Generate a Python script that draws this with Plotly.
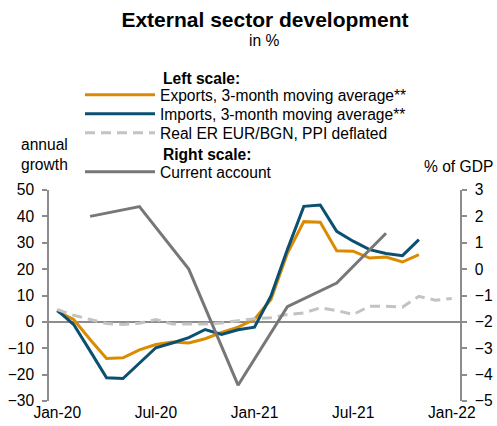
import plotly.graph_objects as go

months = ["Jan-20", "Feb-20", "Mar-20", "Apr-20", "May-20", "Jun-20", "Jul-20", "Aug-20",
          "Sep-20", "Oct-20", "Nov-20", "Dec-20", "Jan-21", "Feb-21", "Mar-21", "Apr-21",
          "May-21", "Jun-21", "Jul-21", "Aug-21", "Sep-21", "Oct-21", "Nov-21", "Dec-21", "Jan-22"]
tick_labels = ["Jan-20", "Jul-20", "Jan-21", "Jul-21", "Jan-22"]

exports = [4.0, 0.9, -6.7, -13.9, -13.6, -10.6, -8.6, -7.6, -8.0, -6.4, -4.0, -2.0, 1.0,
           8.5, 26.0, 38.0, 37.8, 27.0, 26.8, 24.2, 24.6, 22.7, 25.5, None, None]
imports = [4.5, -1.0, -11.0, -21.2, -21.5, -15.8, -9.8, -8.0, -6.0, -2.9, -4.8, -3.0, -2.0,
           9.8, 27.4, 43.8, 44.3, 34.3, 30.6, 27.4, 25.9, 25.1, 31.2, None, None]
real_er = [4.7, 2.5, 0.9, -0.6, -1.0, -0.5, 0.9, -0.8, -0.8, -0.8, -0.4, 0.3, 1.2,
           1.6, 2.8, 3.4, 5.3, 4.3, 2.8, 5.9, 5.9, 5.6, 9.7, 8.2, 8.9]
ca_months = ["Mar-20", "Jun-20", "Sep-20", "Dec-20", "Mar-21", "Jun-21", "Sep-21"]
current_account = [2.0, 2.37, 0.0, -4.4, -1.42, -0.53, 1.36]

FONT = "Arial, Liberation Sans, sans-serif"
FS = 15.6
PAGE_OFF = 0
W, H = 497, 426
ML, MR, MT, MB = 49, 37, 190, 25
ORANGE = "#DB8B00"
BLUE = "#0B4F71"
LGRAY = "#C3C3C3"
DGRAY = "#777777"
AXIS = "#8C8C8C"


def cx(px):
    return (px - PAGE_OFF) / W


def cy(py):
    return 1 - (py - PAGE_OFF) / H


def pxp(px):
    return (px - PAGE_OFF - ML) / (W - ML - MR)


def pyp(py):
    return (H - MB - (py - PAGE_OFF)) / (H - MB - MT)


fig = go.Figure()
fig.add_trace(go.Scatter(x=months, y=exports, mode="lines", name="Exports, 3-month moving average**",
                         line=dict(color=ORANGE, width=3), legend="legend"))
fig.add_trace(go.Scatter(x=months, y=imports, mode="lines", name="Imports, 3-month moving average**",
                         line=dict(color=BLUE, width=3), legend="legend2"))
fig.add_trace(go.Scatter(x=months, y=real_er, mode="lines", name="Real ER EUR/BGN, PPI deflated",
                         line=dict(color=LGRAY, width=3, dash="10px,6px"), legend="legend3"))
fig.add_trace(go.Scatter(x=ca_months, y=current_account, mode="lines", name="Current account",
                         line=dict(color=DGRAY, width=3), yaxis="y2", legend="legend4"))

tf = dict(family=FONT, size=FS, color="#000")


def leg(py):
    return dict(x=cx(80), y=cy(py - 1), xref="container", yref="container",
                xanchor="left", yanchor="middle", bgcolor="rgba(0,0,0,0)",
                font=tf, itemwidth=70, borderwidth=0)


fig.update_layout(
    width=W, height=H, autosize=False,
    margin=dict(l=ML, r=MR, t=MT, b=MB, autoexpand=False),
    paper_bgcolor="white", plot_bgcolor="white",
    font=tf,
    showlegend=True,
    hovermode=False,
    legend=leg(96), legend2=leg(115), legend3=leg(134), legend4=leg(173),
    xaxis=dict(type="category", categoryorder="array", categoryarray=months,
               range=[-0.5, 24.5], tickmode="array", tickvals=tick_labels, ticktext=tick_labels,
               showline=False, ticks="", showgrid=False, zeroline=False, tickfont=tf,
               ticklabelstandoff=0),
    yaxis=dict(range=[-30, 50], dtick=10, showgrid=False, zeroline=True,
               zerolinecolor=AXIS, zerolinewidth=1.5, showline=True, linecolor=AXIS,
               linewidth=1.5, ticks="outside", ticklen=5, tickcolor=AXIS, tickwidth=1.5,
               tickfont=tf, ticklabelstandoff=5),
    yaxis2=dict(range=[-5, 3], dtick=1, overlaying="y", side="right", showgrid=False,
                zeroline=False, showline=True, linecolor=AXIS, linewidth=1.5,
                ticks="outside", ticklen=5, tickcolor=AXIS, tickwidth=1.5,
                tickfont=tf, ticklabelstandoff=5),
    title=dict(text="<b>External sector development</b>", x=cx(265), xanchor="center",
               y=cy(20), yanchor="middle", xref="container", yref="container",
               font=dict(family=FONT, size=21, color="#000")),
)

ann = [
    dict(text="in %", x=264, y=41),
    dict(text="<b>Left scale:</b>", x=161, y=78, xanchor="left"),
    dict(text="<b>Right scale:</b>", x=161, y=154, xanchor="left"),
    dict(text="annual<br>growth", x=44, y=154),
    dict(text="% of GDP", x=458, y=166),
]
for a in ann:
    fig.add_annotation(xref="paper", yref="paper", showarrow=False,
                       xanchor=a.get("xanchor", "center"), yanchor="middle",
                       x=pxp(a["x"]), y=pyp(a["y"]), text=a["text"], font=tf)

fig.write_html("out.html", config={"displayModeBar": False},
               post_script="document.body.style.margin='0';document.body.style.overflow='hidden';")
